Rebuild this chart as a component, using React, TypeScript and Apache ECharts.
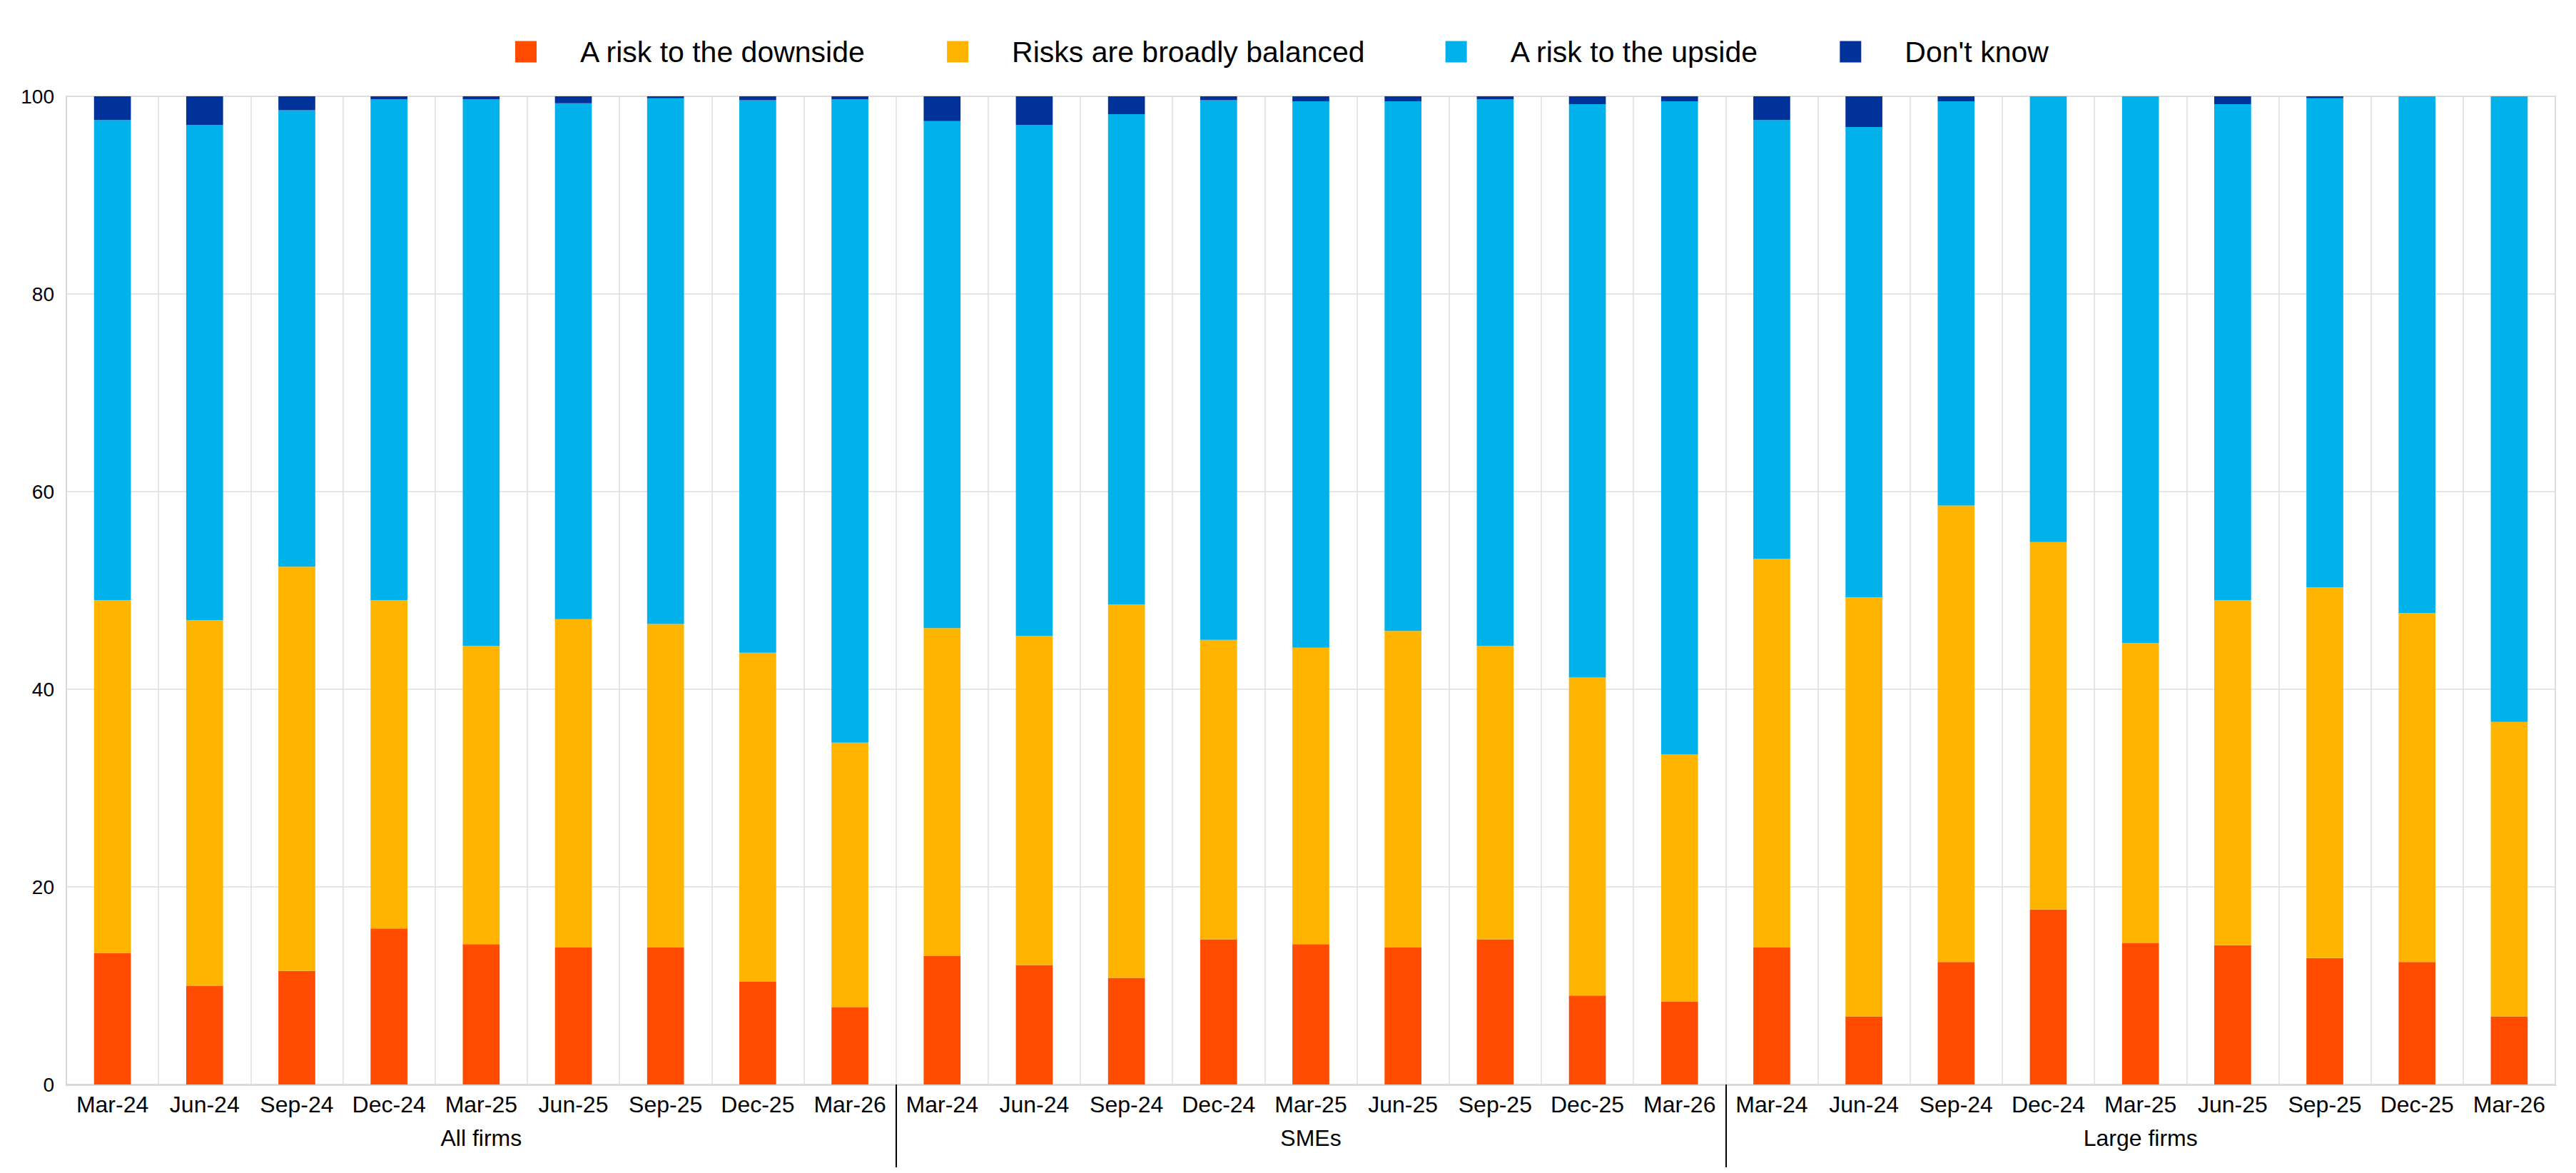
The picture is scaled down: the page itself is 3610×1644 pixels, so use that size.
import React, { useEffect, useRef } from "react";
import * as echarts from "echarts";

const periods = ["Mar-24", "Jun-24", "Sep-24", "Dec-24", "Mar-25", "Jun-25", "Sep-25", "Dec-25", "Mar-26"];
const groups = ["All firms", "SMEs", "Large firms"];
const seriesNames = ["A risk to the downside", "Risks are broadly balanced", "A risk to the upside", "Don't know"];
const colors = ["#FF4B00", "#FFB400", "#00B1EA", "#003299"];

const downside = [13.3, 10.0, 11.5, 15.8, 14.2, 13.9, 13.9, 10.4, 7.8, 13.0, 12.1, 10.8, 14.7, 14.2, 13.9, 14.7, 9.0, 8.4, 13.9, 6.9, 12.4, 17.7, 14.3, 14.1, 12.8, 12.4, 6.9];
const balanced = [35.7, 37.0, 40.9, 33.2, 30.2, 33.2, 32.7, 33.3, 26.8, 33.2, 33.3, 37.8, 30.3, 30.0, 32.0, 29.7, 32.2, 25.0, 39.3, 42.4, 46.2, 37.2, 30.4, 34.9, 37.5, 35.3, 29.8];
const upside = [48.6, 50.1, 46.2, 50.7, 55.3, 52.2, 53.2, 55.9, 65.1, 51.3, 51.7, 49.6, 54.6, 55.3, 53.6, 55.3, 58.0, 66.1, 44.4, 47.6, 40.9, 45.1, 55.3, 50.2, 49.5, 52.3, 63.3];
const dontKnow = [2.4, 2.9, 1.4, 0.3, 0.3, 0.7, 0.2, 0.4, 0.3, 2.5, 2.9, 1.8, 0.4, 0.5, 0.5, 0.3, 0.8, 0.5, 2.4, 3.1, 0.5, 0, 0, 0.8, 0.2, 0, 0];

const yTicks = [0, 20, 40, 60, 80, 100];

const FONT = "'Liberation Sans', Arial, Helvetica, sans-serif";

export default function App() {
  const ref = useRef<HTMLDivElement>(null);
  useEffect(() => {
    if (!ref.current) return;
    const chart = echarts.init(ref.current, undefined, { renderer: "svg" });
    const categories: string[] = [];
    groups.forEach((g, gi) => periods.forEach((p) => categories.push(`${p}|${gi}`)));
    const values = [downside, balanced, upside, dontKnow];
    const n = categories.length;
    const per = periods.length;
    const groupTickValues = groups.slice(1).map((_, i) => (i + 1) * per);
    const groupLabelValues = groups.map((_, i) => i * per + per / 2);

    chart.setOption({
      animation: false,
      textStyle: { fontFamily: FONT },
      legend: {
        left: 709,
        top: 39,
        itemWidth: 30,
        itemHeight: 30,
        itemGap: 113,
        icon: "rect",
        textStyle: { fontSize: 41, color: "#000", fontFamily: FONT, padding: [0, 0, 0, 56] },
        data: seriesNames,
      },
      grid: {
        left: 85,
        right: 21,
        top: 127,
        bottom: 116,
        show: true,
        borderColor: "#d9d9d9",
        borderWidth: 2,
      },
      xAxis: [
        {
          type: "category",
          data: categories,
          boundaryGap: true,
          axisLine: { show: true, lineStyle: { color: "#d9d9d9", width: 3 } },
          axisTick: { show: false },
          splitLine: { show: true, interval: 0, lineStyle: { color: "#dedede", width: 1.5 } },
          axisLabel: {
            interval: 0,
            color: "#000",
            fontSize: 32,
            fontFamily: FONT,
            margin: 12,
            formatter: (v: string) => v.split("|")[0],
          },
        },
        {
          type: "value",
          min: 0,
          max: n,
          position: "bottom",
          axisLine: { show: false },
          splitLine: { show: false },
          axisTick: {
            show: true,
            customValues: groupTickValues,
            length: 124,
            lineStyle: { color: "#000", width: 2 },
          },
          axisLabel: {
            show: true,
            customValues: groupLabelValues,
            color: "#000",
            fontSize: 32,
            fontFamily: FONT,
            margin: 59,
            formatter: (v: number) => groups[Math.floor(v / per)] ?? "",
          },
        },
      ],
      yAxis: {
        type: "value",
        min: yTicks[0],
        max: yTicks[yTicks.length - 1],
        interval: yTicks[1] - yTicks[0],
        axisLine: { show: true, lineStyle: { color: "#d9d9d9", width: 2 } },
        axisTick: { show: false },
        splitLine: { show: true, lineStyle: { color: "#dedede", width: 1.5 } },
        axisLabel: { color: "#000", fontSize: 28, fontFamily: FONT, margin: 17 },
      },
      series: seriesNames.map((name, i) => ({
        name,
        type: "bar",
        stack: "total",
        xAxisIndex: 0,
        barWidth: "40%",
        itemStyle: { color: colors[i] },
        data: values[i],
      })),
    });
    return () => chart.dispose();
  }, []);
  return <div ref={ref} style={{ width: 3594, height: 1628 }} />;
}
